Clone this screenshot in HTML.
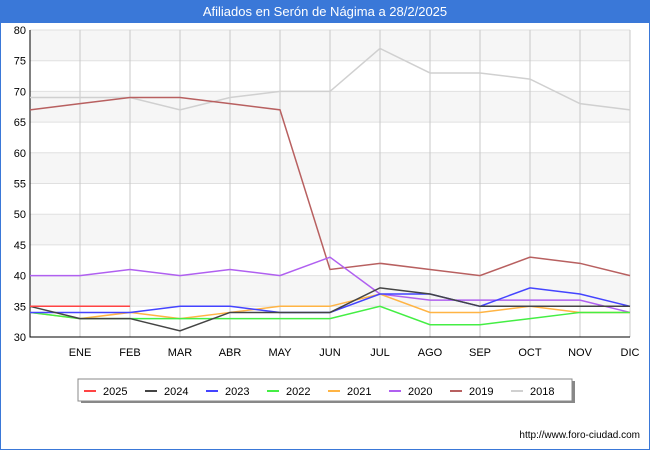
<!DOCTYPE html>
<html><head><meta charset="utf-8"><style>
body{margin:0;width:650px;height:450px;background:#fff;font-family:"Liberation Sans",sans-serif;overflow:hidden}
</style></head><body>
<svg id="c" width="650" height="450" font-family="Liberation Sans, sans-serif">
<rect x="0" y="0" width="650" height="22" fill="#3a78d8"/>
<text x="325" y="16" text-anchor="middle" fill="#fff" font-size="13">Afiliados en Serón de Nágima a 28/2/2025</text>
<rect x="0.5" y="22.5" width="649" height="427" fill="none" stroke="#3a78d8"/>
<g id="grid"></g><g id="lines"></g>
<text x="640" y="438" text-anchor="end" font-size="10" fill="#000">http://www.foro-ciudad.com</text>
<g id="legend"></g>
</svg>
<script>
const months=["","ENE","FEB","MAR","ABR","MAY","JUN","JUL","AGO","SEP","OCT","NOV","DIC"];
const yTicks=[30,35,40,45,50,55,60,65,70,75,80];
const seriesNames=["2025","2024","2023","2022","2021","2020","2019","2018"];
const seriesColors=["#ff4444","#444444","#4444ff","#44ee44","#ffb444","#b060f0","#b86060","#d0d0d0"];
const s2025=[35,35,35];
const s2024=[35,33,33,31,34,34,34,38,37,35,35,35,35];
const s2023=[34,34,34,35,35,34,34,37,37,35,38,37,35];
const s2022=[34,33,33,33,33,33,33,35,32,32,33,34,34];
const s2021=[34,33,34,33,34,35,35,37,34,34,35,34,34];
const s2020=[40,40,41,40,41,40,43,37,36,36,36,36,34];
const s2019=[67,68,69,69,68,67,41,42,41,40,43,42,40];
const s2018=[69,69,69,67,69,70,70,77,73,73,72,68,67];
const seriesData=[s2025,s2024,s2023,s2022,s2021,s2020,s2019,s2018];
const NS="http://www.w3.org/2000/svg";
const L=30,R=630,T=30,B=337;
const x=i=>L+i*(R-L)/12;
const y=v=>B-(v-30)*(B-T)/50;
function mk(t,a,p){const e=document.createElementNS(NS,t);for(const k in a)e.setAttribute(k,a[k]);p.appendChild(e);return e;}
const g=document.getElementById('grid');
for(let i=0;i<yTicks.length-1;i++){if(i%2===1){const r=mk('rect',{x:L,y:y(yTicks[i+1]),width:R-L,height:y(yTicks[i])-y(yTicks[i+1]),fill:'#f6f6f6'},g);

}}
yTicks.forEach(v=>{const l=mk('line',{x1:L,x2:R,y1:y(v),y2:y(v),stroke:'#e0e0e0'},g);


const t=mk('text',{x:L-4,y:y(v)+4,'text-anchor':'end','font-size':11},g);t.textContent=v;

});
months.forEach((m,i)=>{if(i>0){const l=mk('line',{x1:x(i),x2:x(i),y1:T,y2:B,stroke:'#c8c8c8'},g);


const t=mk('text',{x:x(i),y:356,'text-anchor':'middle','font-size':11},g);t.textContent=m;

}});
const ax=mk('path',{d:`M${L},${T}V${B}H${R}`,fill:'none',stroke:'#000'},g);


const lg=document.getElementById('lines');
for(let k=seriesData.length-1;k>=0;k--){const d=seriesData[k].map((v,i)=>(i?'L':'M')+x(i)+','+y(v)).join('');
const p=mk('path',{d:d,fill:'none',stroke:seriesColors[k],'stroke-width':1.5},lg);

}
const leg=document.getElementById('legend');
const sh=mk('rect',{x:81,y:381,width:494,height:22,fill:'#888'},leg);


const bx=mk('rect',{x:78,y:379,width:494,height:22,fill:'#fff',stroke:'#888'},leg);


seriesNames.forEach((n,i)=>{const lx=84+i*61;
const l=mk('line',{x1:lx,x2:lx+12,y1:391,y2:391,stroke:seriesColors[i],'stroke-width':2},leg);


const t=mk('text',{x:lx+19,y:395,'font-size':11},leg);t.textContent=n;

});
</script>
</body></html>
